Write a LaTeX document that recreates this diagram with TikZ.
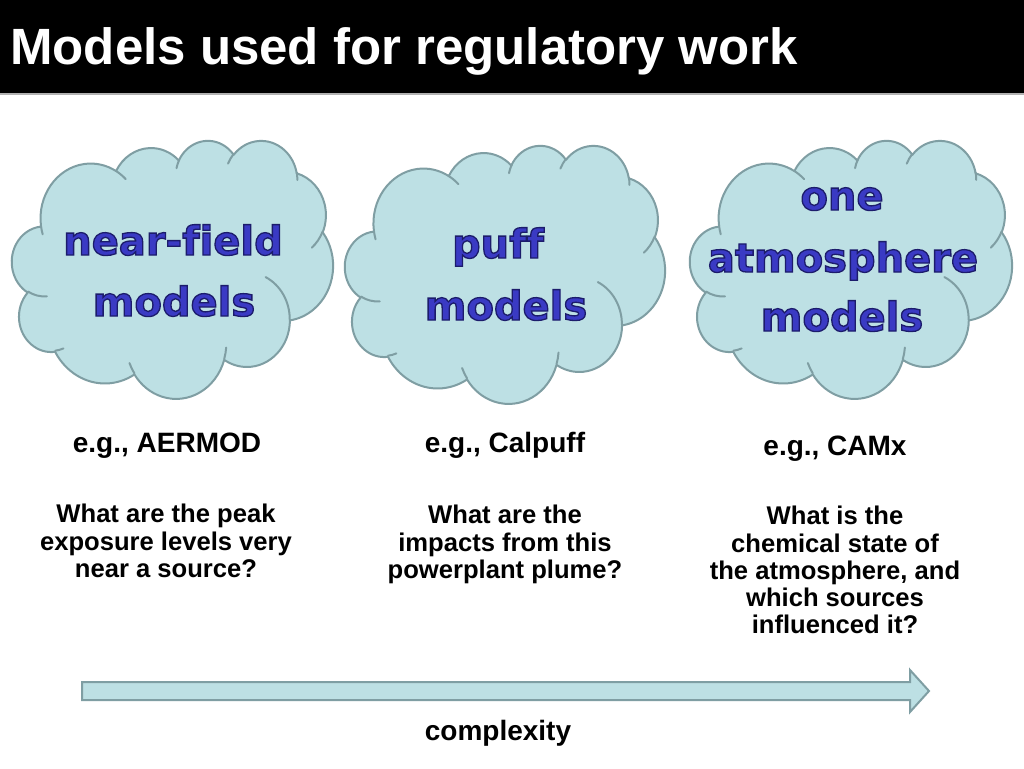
\documentclass[tikz,border=0pt]{standalone}
\usepackage{fontspec}
\setmainfont{Liberation Sans}
\newfontfamily\cloudfont{DejaVu Sans}[Ligatures=NoCommon]
\definecolor{cloudfill}{HTML}{BDE0E4}
\definecolor{cloudline}{HTML}{7F9EA3}
\definecolor{wordblue}{HTML}{3A3AC4}
\tikzset{
  cloudpath/.style={fill=cloudfill, draw=cloudline, line width=2pt, line join=round},
  cloudinner/.style={draw=cloudline, line width=2pt, line cap=round},
  cloudword/.style={anchor=base, inner sep=0pt, text=wordblue,
    font=\cloudfont\bfseries\fontsize{40}{40}\selectfont},
  egtext/.style={anchor=base, inner sep=0pt, font=\bfseries\fontsize{28}{28}\selectfont},
  question/.style={anchor=north, inner sep=0pt, align=center,
    font=\bfseries\fontsize{25.6}{27.3}\selectfont},
  arrowbody/.style={fill=cloudfill, draw=cloudline, line width=2pt, line join=miter}
}
% outlined text: fill in current colour, dark navy stroke
\newcommand{\outlined}[1]{\special{pdf:literal direct 2 Tr 1.3 w 0.11 0.11 0.42 RG}#1\special{pdf:literal direct 0 Tr}}
% DrawingML-style elliptical arc: wR, hR, start angle, sweep (visual angles)
\newcommand{\ooarc}[4]{arc[x radius=#1, y radius=#2,
  start angle={atan2((#1)*sin(#3),(#2)*cos(#3))},
  delta angle={mod(atan2((#1)*sin((#3)+(#4)),(#2)*cos((#3)+(#4)))-atan2((#1)*sin(#3),(#2)*cos(#3))+720,360)}]}
\newcommand{\ppcloud}[5]{%
  \begin{scope}[shift={(#2,#3)}, xscale=#4/432, yscale=#5/432]
  \coordinate (#1) at (216,216);
  \path[cloudpath] (39.00,143.70)
    \ooarc{67.53}{91.90}{-190.4875}{123.7805}
    \ooarc{53.33}{72.67}{-144.1024}{89.9452}
    \ooarc{43.65}{59.45}{-145.8079}{99.7230}
    \ooarc{48.57}{65.95}{-130.9861}{117.2417}
    \ooarc{53.33}{72.73}{-78.7089}{109.0269}
    \ooarc{67.75}{92.20}{-46.2673}{130.2690}
    \ooarc{57.85}{78.67}{0.6250}{114.0333}
    \ooarc{67.52}{92.15}{22.4516}{115.1726}
    \ooarc{77.20}{105.43}{66.2426}{75.7110}
    \ooarc{43.60}{59.18}{-274.9421}{146.7356}
    \ooarc{43.45}{59.45}{-246.8285}{152.5189}
    -- cycle;
  \path[cloudinner]
    (46.93,261.77) \ooarc{43.45}{59.45}{86.7420}{26.4295}
    (69.28,348.99) \ooarc{43.60}{59.18}{73.6105}{11.4475}
    (164.78,390.90) \ooarc{67.52}{92.15}{137.6242}{14.0811}
    (288.27,347.51) \ooarc{67.52}{92.15}{6.4533}{15.9984}
    (341.29,229.54) \ooarc{57.85}{78.67}{-70.2924}{70.9174}
    (417.98,153.54) \ooarc{53.33}{72.73}{30.3180}{27.7515}
    (383.24,54.26) \ooarc{48.57}{65.95}{-13.7443}{14.8589}
    (290.78,39.52) \ooarc{48.57}{65.95}{-149.1815}{18.1954}
    (221.41,47.20) \ooarc{43.65}{59.45}{-163.4943}{17.6864}
    (140.00,51.92) \ooarc{67.53}{91.90}{-66.7070}{12.3194}
    (41.27,157.89) \ooarc{67.53}{91.90}{157.6544}{11.8539};
  \end{scope}}
\newcommand{\cword}[4]{\node[cloudword] (#1) at (#2,#3) {\outlined{#4}};}
\begin{document}
\begin{tikzpicture}[x=1pt,y=-1pt]
\useasboundingbox (0,0) rectangle (1024,768);
\fill[white] (0,0) rectangle (1024,768);
% title band
\fill[black] (0,0) rectangle (1024,93);
\draw[gray!60, line width=1.5pt] (0,94) -- (1024,94);
\node[anchor=base west, inner sep=0pt, text=white,
  font=\bfseries\fontsize{51}{51}\selectfont] (title) at (10,64) {Models used for regulatory work};
% clouds
\ppcloud{c1}{12}{140}{321}{258}
\ppcloud{c2}{345}{145}{320}{258}
\ppcloud{c3}{690}{140}{322}{258}
% cloud words
\cword{w1a}{173}{255}{near-field}
\cword{w1b}{174}{316}{models}
\cword{w2a}{498}{258}{puff}
\cword{w2b}{506}{320}{models}
\cword{w3a}{842}{210}{one}
\cword{w3b}{843}{272}{atmosphere}
\cword{w3c}{842}{331}{models}
% examples
\node[egtext] (e1) at (167,452) {e.g., AERMOD};
\node[egtext] (e2) at (505,452) {e.g., Calpuff};
\node[egtext] (e3) at (835,455) {e.g., CAMx};
% questions
\node[question] (q1) at (166,504) {What are the peak\\exposure levels very\\near a source?};
\node[question] (q2) at (505,505) {What are the\\impacts from this\\powerplant plume?};
\node[question] (q3) at (835,506) {What is the\\chemical state of\\the atmosphere, and\\which sources\\influenced it?};
% arrow
\draw[arrowbody] (82,682) -- (910,682) -- (910,670) -- (929,691) -- (910,712) -- (910,700) -- (82,700) -- cycle;
\node[egtext] (cx) at (498,740) {complexity};
\end{tikzpicture}
\end{document}
